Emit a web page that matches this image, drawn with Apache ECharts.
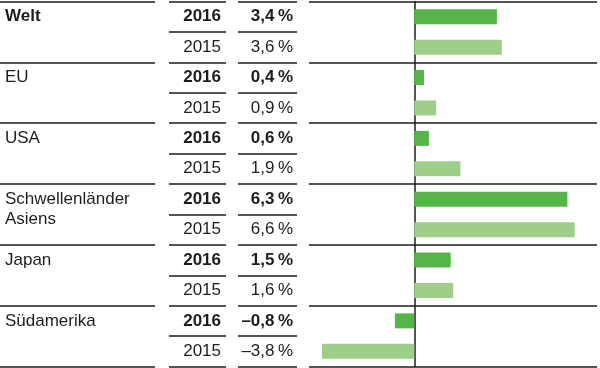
<!DOCTYPE html>
<html>
<head>
<meta charset="utf-8">
<script src="https://cdn.jsdelivr.net/npm/echarts@6/dist/echarts.min.js"></script>
<style>html,body{margin:0;padding:0;background:#fff}#c{width:600px;height:368px}</style>
</head>
<body>
<div id="c"></div>
<script>
// ---- data ----
const regions = ['Welt', 'EU', 'USA', 'Schwellenländer', 'Japan', 'Südamerika'];
const regionSecondLine = ['', '', '', 'Asiens', '', ''];
const boldRegion = [true, false, false, false, false, false];
const years = ['2016', '2015'];
const values2016 = [3.4, 0.4, 0.6, 6.3, 1.5, -0.8];
const values2015 = [3.6, 0.9, 1.9, 6.6, 1.6, -3.8];

// ---- derived ----
const rows = [];
regions.forEach((r, g) => {
  rows.push({ label: r, labelBold: boldRegion[g], year: years[0], value: values2016[g], cur: true, second: false });
  rows.push({ label: regionSecondLine[g], labelBold: false, year: years[1], value: values2015[g], cur: false, second: true });
});
const rowIds = rows.map((_, i) => String(i));
function fmtPct(v) {
  const s = Math.abs(v).toFixed(1).replace('.', ',');
  return (v < 0 ? '\u2013' : '') + s + '\u2009%';
}

const TXT = '#1d1d1b';
const LINE = '#1d1d1b';
const DARK = '#56b548';
const LIGHT = '#9dcf8b';
const FONT = '"Liberation Sans", Arial, Helvetica, sans-serif';
const FS = 17;
const TOP = 1.5, H = 365;

const rich = {
  b: { fontWeight: 'bold', fontSize: FS, color: TXT, fontFamily: FONT },
  n: { fontWeight: 'normal', fontSize: FS, color: TXT, fontFamily: FONT },
  u: { fontWeight: 'normal', fontSize: FS, color: TXT, fontFamily: FONT, padding: [0, 0, 20, 0] }
};

const grids = [
  { left: 0, width: 155, top: TOP, height: H },
  { left: 169, width: 57, top: TOP, height: H },
  { left: 238, width: 59, top: TOP, height: H },
  { left: 309, width: 288, top: TOP, height: H }
];

const xAxes = [0, 1, 2].map(i => ({ gridIndex: i, type: 'value', min: 0, max: 1, show: false, axisLine: { onZero: false } }));
xAxes.push({ gridIndex: 3, type: 'value', min: -4.333, max: 7.519, show: false, axisLine: { onZero: false } });

function lineAxis(gi, interval) {
  return {
    gridIndex: gi, type: 'value', min: 0, max: 12, interval: interval, inverse: true,
    axisLine: { show: false, onZero: false }, axisTick: { show: false }, axisLabel: { show: false },
    splitLine: { show: true, lineStyle: { color: LINE, width: 1.5 } }
  };
}
function textAxis(gi, position, margin, formatter) {
  return {
    gridIndex: gi, type: 'category', data: rowIds, inverse: true, position: position,
    axisLine: { show: false, onZero: false }, axisTick: { show: false }, splitLine: { show: false },
    axisLabel: { show: true, inside: true, margin: margin, interval: 0, hideOverlap: false,
      fontFamily: FONT, fontSize: FS, color: TXT, rich: rich, formatter: formatter }
  };
}

const yAxes = [
  lineAxis(0, 2),
  textAxis(0, 'left', 5, (v, i) => {
    const r = rows[i];
    if (!r.label) return '';
    if (r.second) return '{u|' + r.label + '}';
    return (r.labelBold ? '{b|' : '{n|') + r.label + '}';
  }),
  lineAxis(1, 1),
  textAxis(1, 'right', 5, (v, i) => (rows[i].cur ? '{b|' : '{n|') + rows[i].year + '}'),
  lineAxis(2, 1),
  textAxis(2, 'right', 4, (v, i) => (rows[i].cur ? '{b|' : '{n|') + fmtPct(rows[i].value) + '}'),
  lineAxis(3, 2),
  {
    gridIndex: 3, type: 'category', data: rowIds, inverse: true,
    axisLine: { show: true, onZero: true, onZeroAxisIndex: 3, lineStyle: { color: LINE, width: 1.5 } },
    axisTick: { show: false }, axisLabel: { show: false }, splitLine: { show: false }
  }
];

const option = {
  animation: false,
  backgroundColor: '#fff',
  grid: grids,
  xAxis: xAxes,
  yAxis: yAxes,
  series: [{
    type: 'bar',
    xAxisIndex: 3,
    yAxisIndex: 7,
    barWidth: 15,
    data: rows.map(r => ({ value: r.value, itemStyle: { color: r.cur ? DARK : LIGHT } }))
  }]
};

const chart = echarts.init(document.getElementById('c'), null, { renderer: 'canvas' });
chart.setOption(option);
</script>
</body>
</html>
